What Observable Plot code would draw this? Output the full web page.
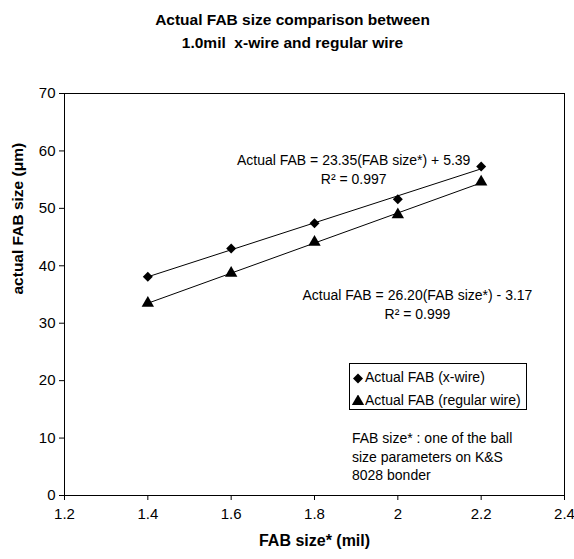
<!DOCTYPE html>
<html>
<head>
<meta charset="utf-8">
<script src="https://cdn.jsdelivr.net/npm/d3@7"></script>
<script src="https://cdn.jsdelivr.net/npm/@observablehq/plot@0.6"></script>
<style>
  html, body { margin: 0; padding: 0; background: #fff; }
  #wrap { position: relative; width: 574px; height: 559px; font-family: "Liberation Sans", Arial, sans-serif; color: #000; }
  #legend { position: absolute; left: 349px; top: 363px; width: 178px; height: 47px; box-sizing: border-box; border: 1px solid #000; background: #fff; font-size: 14px; }
  #legend .row { position: absolute; left: 2px; height: 20px; line-height: 20px; white-space: nowrap; }
  #legend svg { vertical-align: middle; margin-right: 1px; }
  #note { position: absolute; left: 352px; top: 429px; font-size: 14px; line-height: 18.5px; white-space: nowrap; }
</style>
</head>
<body>
<div id="wrap"></div>
<script>
// ---- data ----
const titleLines = ["Actual FAB size comparison between", "1.0mil\u00a0 x-wire and regular wire"];
const xLabel = "FAB size* (mil)";
const yLabel = "actual FAB size (\u03bcm)";
const xTicks = [1.2, 1.4, 1.6, 1.8, 2.0, 2.2, 2.4];
const xTickLabels = ["1.2", "1.4", "1.6", "1.8", "2", "2.2", "2.4"];
const yTicks = [0, 10, 20, 30, 40, 50, 60, 70];
const fabSize = [1.4, 1.6, 1.8, 2.0, 2.2];
const xWire = [38.1, 43.0, 47.4, 51.6, 57.3];
const regularWire = [33.5, 38.7, 44.1, 48.9, 54.6];
const seriesNames = ["Actual FAB (x-wire)", "Actual FAB (regular wire)"];
const equations = [
  "Actual FAB = 23.35(FAB size*) + 5.39\nR\u00b2 = 0.997",
  "Actual FAB = 26.20(FAB size*) - 3.17\nR\u00b2 = 0.999"
];
const equationAnchors = [{x: 1.894, y: 57.0}, {x: 2.047, y: 33.5}];
const noteLines = ["FAB size* : one of the ball", "size parameters on K&S", "8028 bonder"];

// ---- table ----
const rowsX = fabSize.map((s, i) => ({size: s, fab: xWire[i]}));
const rowsR = fabSize.map((s, i) => ({size: s, fab: regularWire[i]}));
const eqRows = equations.map((t, i) => ({text: t, x: equationAnchors[i].x, y: equationAnchors[i].y}));

const chart = Plot.plot({
  width: 574,
  height: 559,
  marginTop: 93,
  marginBottom: 64,
  marginLeft: 64,
  marginRight: 10,
  style: {fontFamily: "'Liberation Sans', Arial, sans-serif", fontSize: "15px", color: "#000", background: "#fff"},
  x: {domain: [1.2, 2.4], label: null},
  y: {domain: [0, 70], label: null},
  marks: [
    Plot.frame({stroke: "#000", strokeWidth: 1}),
    Plot.axisX({ticks: xTicks, tickFormat: (d, i) => xTickLabels[i], tickSize: 5, tickPadding: 8, label: null, stroke: "#000", fontSize: 15}),
    Plot.axisY({ticks: yTicks, tickSize: 5, tickPadding: 4, label: null, stroke: "#000", fontSize: 15}),
    Plot.linearRegressionY(rowsX, {x: "size", y: "fab", stroke: "#000", strokeWidth: 1, ci: 0}),
    Plot.linearRegressionY(rowsR, {x: "size", y: "fab", stroke: "#000", strokeWidth: 1, ci: 0}),
    Plot.dot(rowsX, {x: "size", y: "fab", symbol: "diamond2", r: 4.5, fill: "#000", stroke: "none"}),
    Plot.dot(rowsR, {x: "size", y: "fab", symbol: "triangle", r: 4.6, fill: "#000", stroke: "none"}),
    Plot.text(eqRows, {x: "x", y: "y", text: "text", textAnchor: "middle", lineAnchor: "middle", lineHeight: 1.4, fontSize: 14, fill: "#000"}),
    Plot.text([titleLines.join("\n")], {frameAnchor: "top", dx: -22, dy: -64.5, lineAnchor: "middle", lineHeight: 1.5, fontSize: 15.5, fontWeight: "bold", fill: "#000"}),
    Plot.text([xLabel], {frameAnchor: "bottom", dy: 45, lineAnchor: "middle", fontSize: 16, fontWeight: "bold", fill: "#000"}),
    Plot.text([yLabel], {frameAnchor: "left", dx: -46, rotate: -90, lineAnchor: "middle", fontSize: 15.5, fontWeight: "bold", fill: "#000"})
  ]
});

const wrap = document.getElementById("wrap");
wrap.appendChild(chart);

// legend
const legend = document.createElement("div");
legend.id = "legend";
const symbols = [d3.symbolDiamond2, d3.symbolTriangle];
const symSizes = [64, 66];
seriesNames.forEach((name, i) => {
  const row = document.createElement("div");
  row.className = "row";
  row.style.top = (i === 0 ? 3 : 26) + "px";
  const svg = d3.create("svg").attr("width", 12).attr("height", 12);
  svg.append("path").attr("transform", "translate(6,6.5)").attr("d", d3.symbol(symbols[i], symSizes[i])()).attr("fill", "#000");
  row.appendChild(svg.node());
  row.appendChild(document.createTextNode(name));
  legend.appendChild(row);
});
wrap.appendChild(legend);

// note
const note = document.createElement("div");
note.id = "note";
note.innerHTML = noteLines.map(l => l.replace(/&/g, "&amp;")).join("<br>");
wrap.appendChild(note);
</script>
</body>
</html>
